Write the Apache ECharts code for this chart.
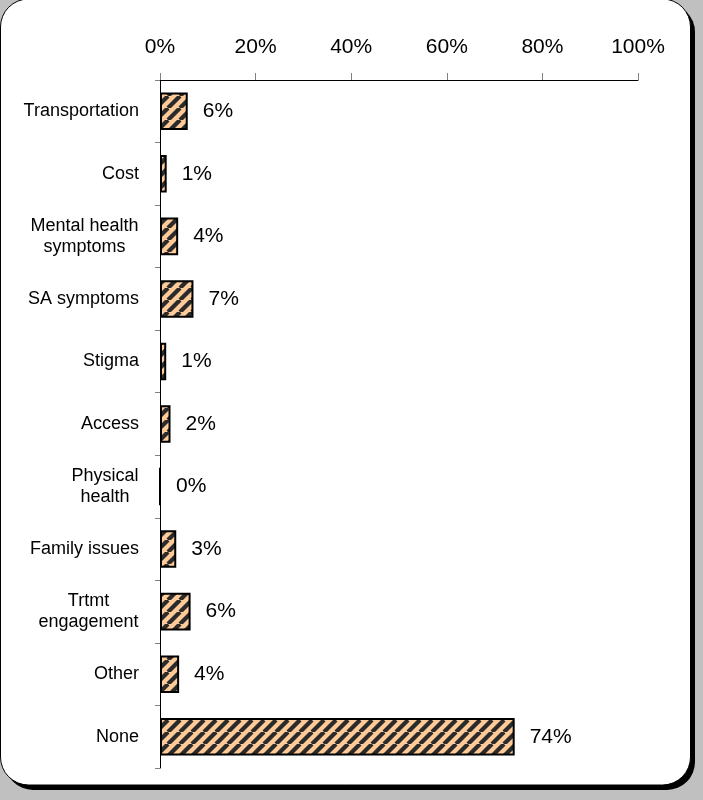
<!DOCTYPE html>
<html>
<head>
<meta charset="utf-8">
<script src="https://cdn.jsdelivr.net/npm/echarts@6/dist/echarts.min.js"></script>
<style>
html,body{margin:0;padding:0;background:#c0c0c0;}
#chart{width:703px;height:800px;}
</style>
</head>
<body>
<div id="chart"></div>
<script>
const categories = ['Transportation', 'Cost', 'Mental health\nsymptoms', 'SA symptoms', 'Stigma', 'Access', 'Physical\nhealth', 'Family issues', 'Trtmt\nengagement', 'Other', 'None'];
const values = [0.058, 0.014, 0.038, 0.07, 0.013, 0.022, 0, 0.034, 0.064, 0.04, 0.742];
const axisMin = 0, axisMax = 1, axisStep = 0.2;

const FONT = '"Liberation Sans", Arial, sans-serif';

// hatch pattern
const P = 12;
const pc = document.createElement('canvas');
pc.width = P; pc.height = P;
const pctx = pc.getContext('2d');
pctx.fillStyle = '#FFCC99';
pctx.fillRect(0, 0, P, P);
pctx.strokeStyle = '#2b2b2b';
pctx.lineWidth = 4.2;
for (const k of [-P, 0, P]) {
  pctx.beginPath();
  pctx.moveTo(k, P);
  pctx.lineTo(k + P, 0);
  pctx.stroke();
}

// measure for centered multi-line labels
const mc = document.createElement('canvas').getContext('2d');
mc.font = '18px ' + FONT;
const rich = {};
categories.forEach((c, i) => {
  const lines = c.split('\n');
  if (lines.length > 1) {
    const w = Math.ceil(Math.max(...lines.map(l => mc.measureText(l).width)));
    rich['c' + i] = { width: w, align: 'center', fontSize: 18, lineHeight: 21, fontFamily: FONT, color: '#000' };
  }
});

const chart = echarts.init(document.getElementById('chart'));
chart.setOption({
  backgroundColor: '#c0c0c0',
  animation: false,
  graphic: [
    { type: 'rect', z: -10, shape: { x: 5, y: 4, width: 690, height: 786, r: 28 }, style: { fill: '#000' } },
    { type: 'rect', z: -9, shape: { x: 0.5, y: -1, width: 690, height: 786, r: 28 }, style: { fill: '#fff', stroke: '#000', lineWidth: 1 } }
  ],
  grid: { left: 160, right: 65, top: 80, bottom: 32 },
  xAxis: {
    type: 'value', position: 'top', min: axisMin, max: axisMax, interval: axisStep,
    axisLine: { show: true, lineStyle: { color: '#000', width: 1 } },
    axisTick: { show: true, length: 7, lineStyle: { color: '#808080' } },
    splitLine: { show: false },
    axisLabel: { fontSize: 21, fontFamily: FONT, color: '#000', margin: 22, formatter: v => Math.round(v * 100) + '%' }
  },
  yAxis: {
    type: 'category', data: categories, inverse: true,
    axisLine: { show: true, lineStyle: { color: '#000', width: 1 } },
    axisTick: { show: true, length: 5, lineStyle: { color: '#808080' } },
    axisLabel: {
      fontSize: 18, fontFamily: FONT, color: '#000', margin: 21, lineHeight: 21, align: 'right',
      formatter: (v, i) => {
        const lines = v.split('\n');
        if (lines.length === 1) return v;
        return lines.map(l => '{c' + i + '|' + l + '}').join('\n');
      },
      rich: rich
    }
  },
  series: [{
    type: 'bar', data: values, barCategoryGap: '40%',
    itemStyle: { color: { image: pc, repeat: 'repeat' }, borderColor: '#000', borderWidth: 2 },
    label: { show: true, position: 'right', distance: 15, fontSize: 21, fontFamily: FONT, color: '#000', formatter: p => Math.round(p.value * 100) + '%' }
  }]
});
</script>
</body>
</html>
